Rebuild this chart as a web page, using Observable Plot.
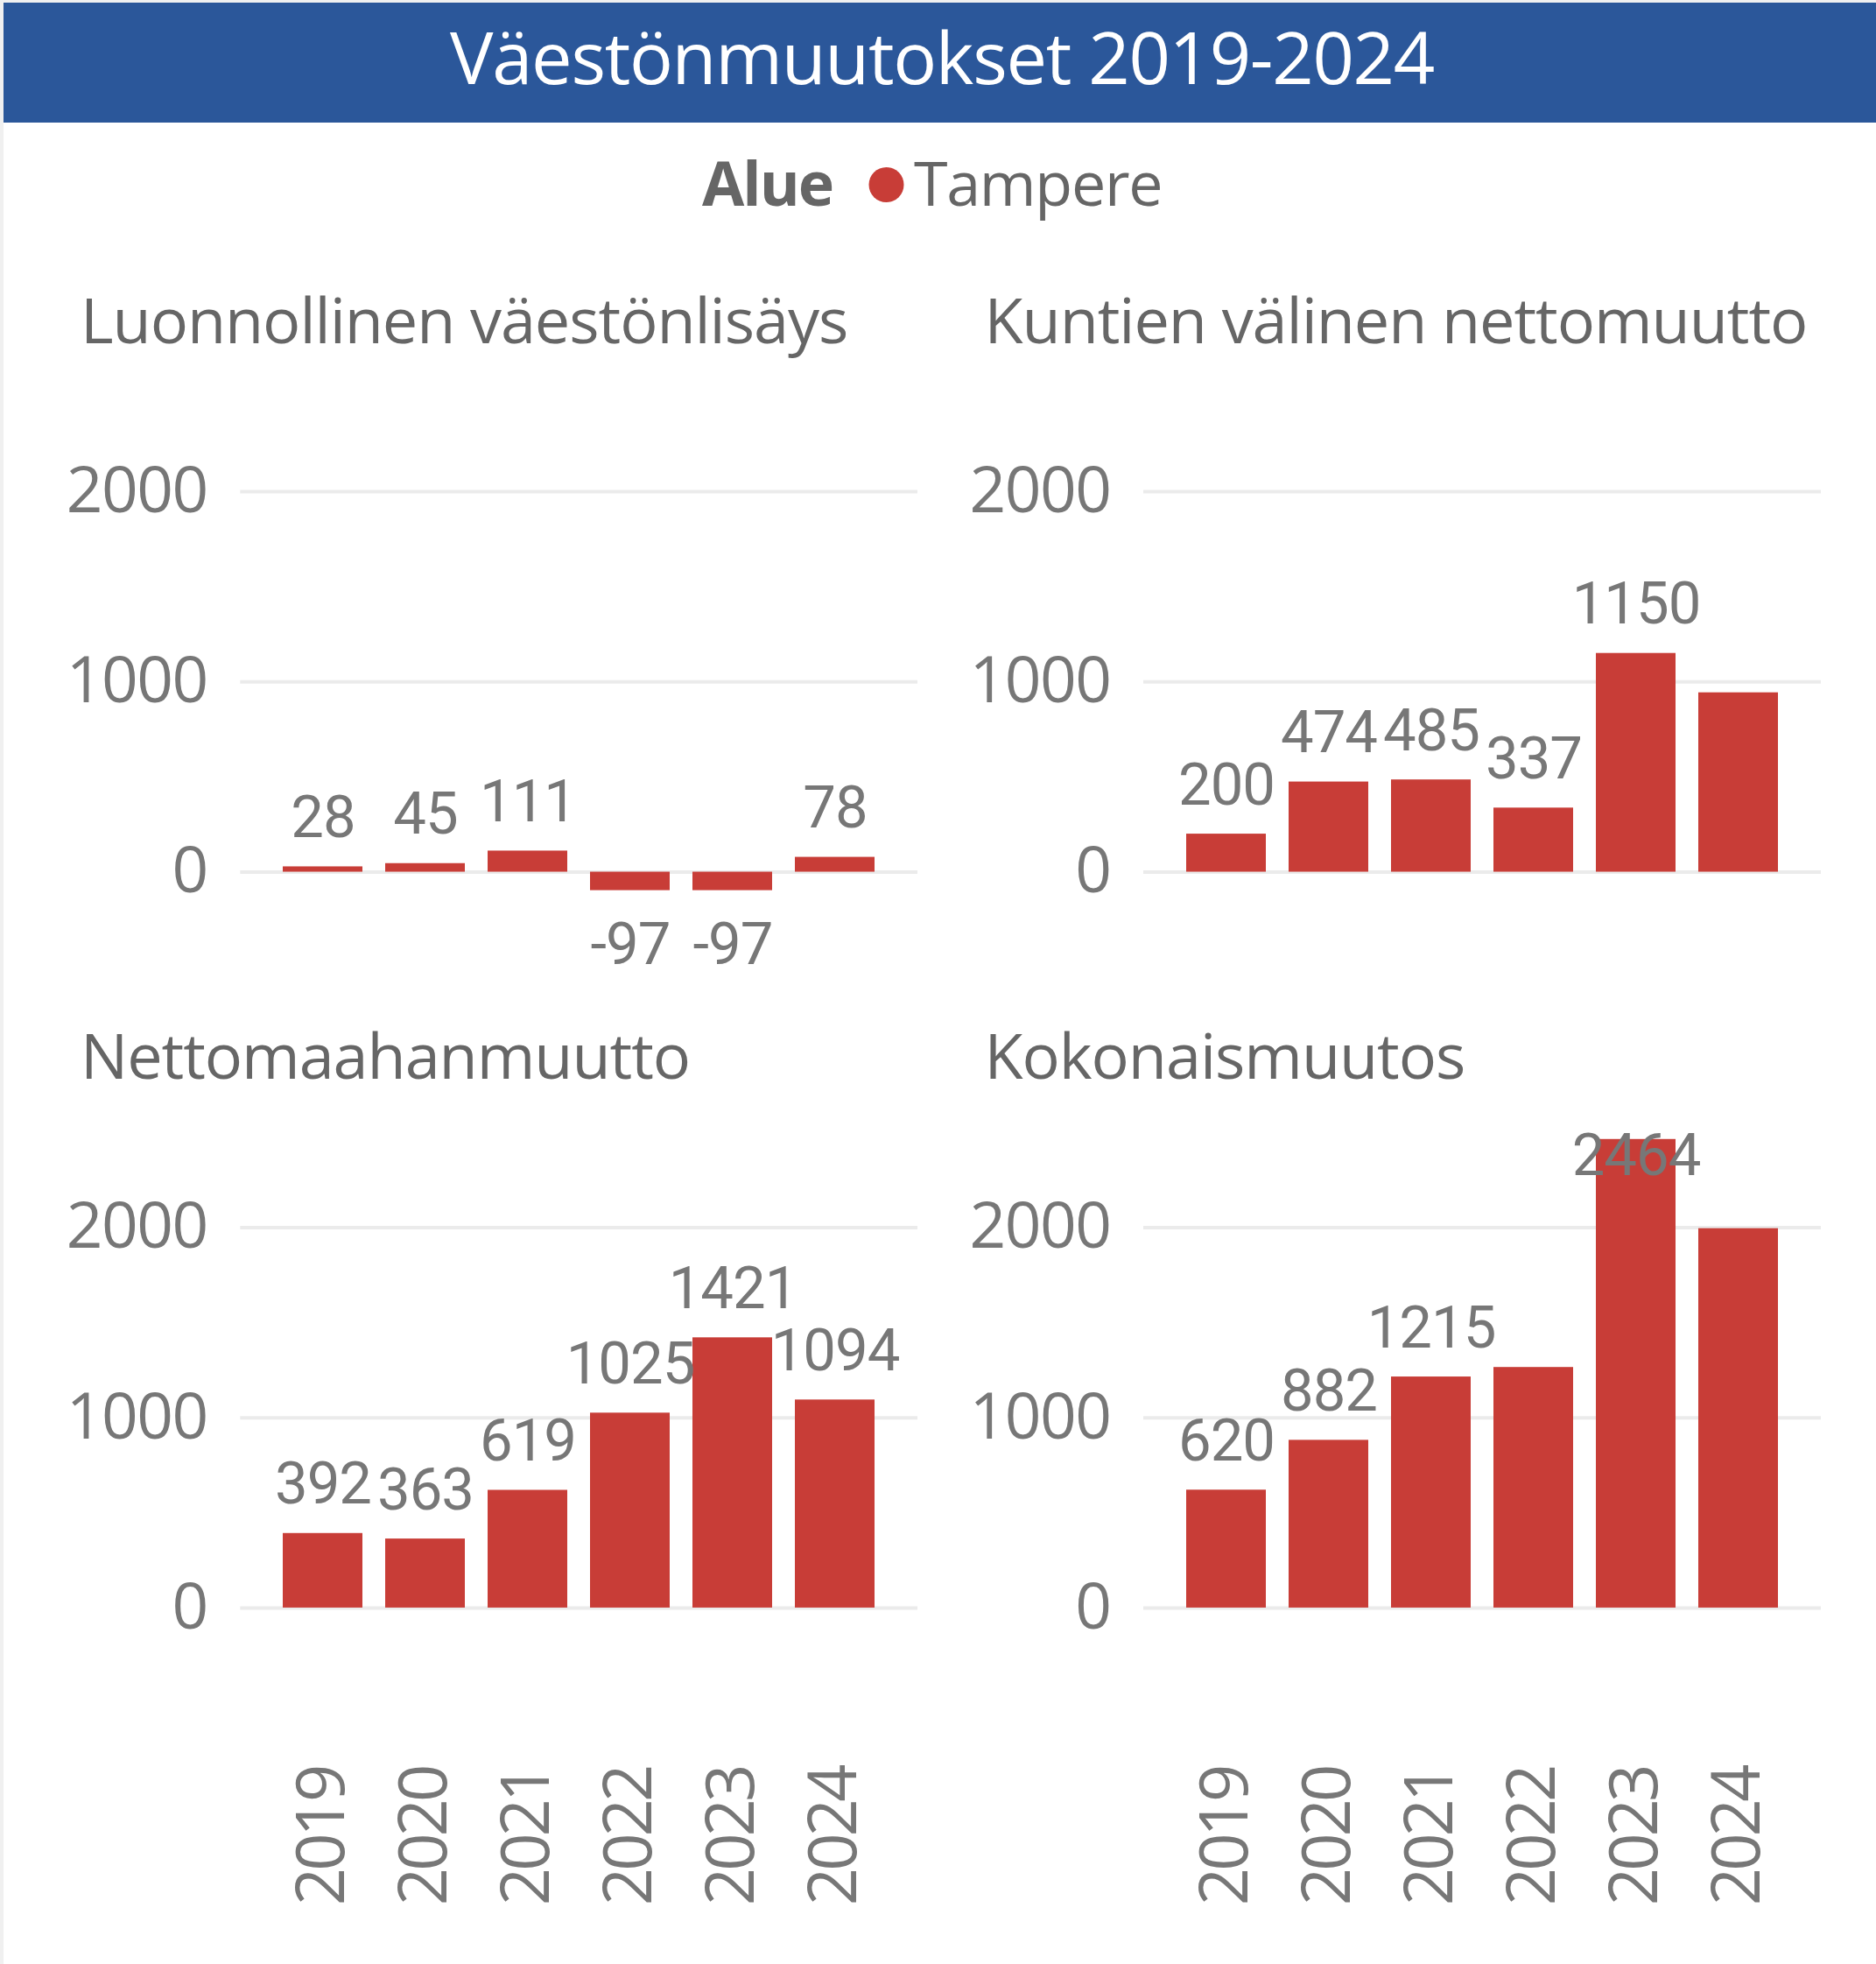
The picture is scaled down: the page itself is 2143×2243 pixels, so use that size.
<!DOCTYPE html>
<html>
<head>
<meta charset="utf-8">
<script src="https://cdn.jsdelivr.net/npm/d3@7"></script>
<script src="https://cdn.jsdelivr.net/npm/@observablehq/plot@0.6"></script>
<style>
html, body { margin: 0; padding: 0; background: #fff; }
#page { position: relative; width: 2143px; height: 2243px; overflow: hidden; background: #fff; }
.panel { position: absolute; }
.panel g[aria-label="y-axis tick label"] text { letter-spacing: -1.5px; }
.panel g[aria-label="x-axis tick label"] text { letter-spacing: -4px; }
.panel g[aria-label="text"] text { letter-spacing: -1px; }
</style>
</head>
<body>
<div id="page"></div>
<script>
// ---- data ----
const years = ["2019", "2020", "2021", "2022", "2023", "2024"];
const yTicks = [0, 1000, 2000];
const luonnollinen = [28, 45, 111, -97, -97, 78];
const kuntien = [200, 474, 485, 337, 1150, 943];
const netto = [392, 363, 619, 1025, 1421, 1094];
const kokonais = [620, 882, 1215, 1265, 2464, 1995];
// years whose data label is not shown in the original
const luonnollinenHidden = [];
const kuntienHidden = ["2024"];
const nettoHidden = [];
const kokonaisHidden = ["2022", "2024"];
const panelTitles = ["Luonnollinen väestönlisäys", "Kuntien välinen nettomuutto", "Nettomaahanmuutto", "Kokonaismuutos"];
const chartTitle = "Väestönmuutokset 2019-2024";
const legendTitle = "Alue";
const legendItem = "Tampere";

// ---- style ----
const barColor = "#C83D37";
const headerBlue = "#2B579A";
const textGray = "#666666";
const tickGray = "#777777";
const gridGray = "#EBEBEB";
const sansFont = "'Open Sans', 'Noto Sans', sans-serif";
const labelFont = "Roboto, 'Open Sans', sans-serif";

const allValues = [...luonnollinen, ...kuntien, ...netto, ...kokonais];
const yDomain = [d3.min(allValues), d3.max(allValues)];

const page = document.getElementById("page");

function panel({values, hidden, left, top, width, height, marginLeft, marginRight, marginTop, marginBottom, showX}) {
  const data = years.map((year, i) => ({year, value: values[i], hidden: hidden.includes(year)}));
  const labeled = data.filter(d => !d.hidden);
  const yMax = yDomain[1];
  const above = labeled.filter(d => d.value >= 0 && d.value < 0.9 * yMax);
  const inside = labeled.filter(d => d.value >= 0.9 * yMax);
  const below = labeled.filter(d => d.value < 0);
  const labelOpts = {x: "year", y: "value", text: d => String(d.value), fontFamily: labelFont, fontSize: 67, fill: tickGray};
  const marks = [
    Plot.ruleY(yTicks, {stroke: gridGray, strokeWidth: 4}),
    Plot.barY(data, {x: "year", y: "value", fill: barColor}),
    Plot.text(above, {...labelOpts, lineAnchor: "bottom", dy: -34}),
    Plot.text(below, {...labelOpts, lineAnchor: "top", dy: 36}),
    Plot.text(inside, {...labelOpts, lineAnchor: "top", dy: -7}),
    Plot.axisY({ticks: yTicks, tickFormat: d => String(d), tickSize: 0, tickPadding: 38, fontSize: 73, fontFamily: sansFont, fill: tickGray, label: null})
  ];
  if (showX) {
    marks.push(Plot.axisX({tickRotate: -90, tickSize: 0, tickPadding: 161, fontSize: 76, fontFamily: sansFont, fill: tickGray, label: null}));
  }
  const xOpts = {type: "band", domain: years, paddingInner: 0.219, paddingOuter: 0.414};
  if (!showX) xOpts.axis = null;
  const svg = Plot.plot({
    width, height, marginLeft, marginRight, marginTop, marginBottom,
    x: xOpts,
    y: {domain: yDomain},
    style: {background: "transparent", overflow: "visible", fontFamily: sansFont, color: tickGray},
    marks
  });
  const div = document.createElement("div");
  div.className = "panel";
  div.style.left = left + "px";
  div.style.top = top + "px";
  div.appendChild(svg);
  page.appendChild(div);
}

const leftCol = {left: 0, width: 1071, marginLeft: 274.3, marginRight: 23};
const rightCol = {left: 1071, width: 1072, marginLeft: 235, marginRight: 63};
const topRow = {top: 420, height: 707, marginTop: 40.3, marginBottom: 110.4, showX: false};
const bottomRow = {top: 1260, height: 983, marginTop: 40.8, marginBottom: 386, showX: true};

panel({values: luonnollinen, hidden: luonnollinenHidden, ...leftCol, ...topRow});
panel({values: kuntien, hidden: kuntienHidden, ...rightCol, ...topRow});
panel({values: netto, hidden: nettoHidden, ...leftCol, ...bottomRow});
panel({values: kokonais, hidden: kokonaisHidden, ...rightCol, ...bottomRow});

// ---- header, legend, panel titles ----
const overlay = d3.select(page).append("svg")
  .attr("width", 2143).attr("height", 2243)
  .style("position", "absolute").style("left", "0px").style("top", "0px")
  .style("pointer-events", "none");

overlay.append("rect").attr("x", 0).attr("y", 0).attr("width", 2143).attr("height", 3).attr("fill", "#F0F0F0");
overlay.append("rect").attr("x", 0).attr("y", 0).attr("width", 4).attr("height", 2243).attr("fill", "#F0F0F0");
overlay.append("rect").attr("x", 4).attr("y", 3).attr("width", 2139).attr("height", 137).attr("fill", headerBlue);

overlay.append("text").text(chartTitle)
  .attr("x", 1076).attr("y", 96).attr("text-anchor", "middle")
  .attr("font-family", sansFont).attr("font-size", 83).attr("letter-spacing", "-1.3px")
  .attr("fill", "#FFFFFF");

overlay.append("text").text(legendTitle)
  .attr("x", 802).attr("y", 235)
  .attr("font-family", sansFont).attr("font-size", 70).attr("font-weight", "bold").attr("letter-spacing", "-2px")
  .attr("fill", textGray);
overlay.append("circle").attr("cx", 1012.5).attr("cy", 211).attr("r", 20).attr("fill", barColor);
overlay.append("text").text(legendItem)
  .attr("x", 1044).attr("y", 235)
  .attr("font-family", sansFont).attr("font-size", 70).attr("letter-spacing", "-1.3px")
  .attr("fill", textGray);

const titlePos = [[92, 392], [1124.5, 392], [92, 1232], [1124.5, 1232]];
panelTitles.forEach((t, i) => {
  overlay.append("text").text(t)
    .attr("x", titlePos[i][0]).attr("y", titlePos[i][1])
    .attr("font-family", sansFont).attr("font-size", 72).attr("letter-spacing", "-1.05px")
    .attr("fill", textGray);
});
</script>
</body>
</html>
